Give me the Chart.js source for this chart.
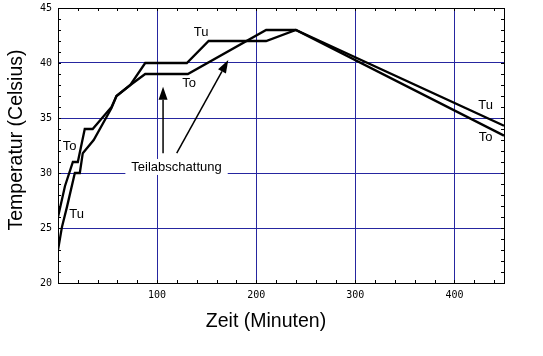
<!DOCTYPE html>
<html><head><meta charset="utf-8">
<script src="https://cdn.jsdelivr.net/npm/chart.js@4.4.0/dist/chart.umd.min.js"></script>
<style>html,body{margin:0;padding:0;background:#fff}#wrap{width:543px;height:356px;position:relative}</style>
</head><body><div id="wrap"><canvas id="c"></canvas></div>
<script>
// Data (Zeit in Minuten, Temperatur in °C)
const toX = [0, 7, 15, 20, 27, 35, 54, 59, 73, 88, 131, 210, 240, 450];
const toY = [26, 28.8, 31, 31, 34, 34, 36, 37, 38, 39, 39, 43, 43, 33.4];
const tuX = [0, 4, 9, 17, 22, 25, 36, 54, 59, 73, 88, 130, 152, 210, 240, 450];
const tuY = [23, 25.1, 26.9, 30, 30, 31.8, 33, 35.9, 37, 38, 40, 40, 42, 42, 43, 34.3];
const xTicks = [100, 200, 300, 400];
const yTicks = [20, 25, 30, 35, 40, 45];
const xTitle = 'Zeit (Minuten)';
const yTitle = 'Temperatur (Celsius)';
const noteText = 'Teilabschattung';
// annotation labels: [text, x, y]
const seriesLabels = [
  ['To', 11.6, 32.4], ['Tu', 18.7, 26.2],
  ['Tu', 144.3, 42.8], ['To', 132.2, 38.1],
  ['Tu', 431.4, 36.15], ['To', 431.4, 33.2]
];
const notePos = [119.6, 30.55];
// arrows: [fromX, fromY, toX, toY]
const arrows = [[106, 31.8, 106, 37.85], [119.8, 31.8, 171.8, 40.27]];

const GRID = '#2626a0';
const pts = (xs, ys) => xs.map((x, i) => ({x, y: ys[i]}));

const overlay = {
  id: 'overlay',
  afterDatasetsDraw(chart) {
    const {ctx, chartArea: a, scales: {x, y}} = chart;
    ctx.save();
    // top & right border
    ctx.strokeStyle = '#000'; ctx.lineWidth = 1;
    ctx.beginPath();
    ctx.moveTo(a.left, Math.round(a.top) + 0.5); ctx.lineTo(a.right + 0.5, Math.round(a.top) + 0.5);
    ctx.moveTo(Math.round(a.right) + 0.5, a.top); ctx.lineTo(Math.round(a.right) + 0.5, a.bottom);
    ctx.stroke();
    // minor ticks
    ctx.beginPath();
    for (let v = 21; v < 45; v++) {
      const py = Math.round(y.getPixelForValue(v)) + 0.5;
      ctx.moveTo(a.left, py); ctx.lineTo(a.left + 3, py);
      ctx.moveTo(a.right, py); ctx.lineTo(a.right - 3, py);
    }
    for (let v = 20; v < 450; v += 20) {
      const px = Math.round(x.getPixelForValue(v)) + 0.5;
      ctx.moveTo(px, a.bottom); ctx.lineTo(px, a.bottom - 3);
      ctx.moveTo(px, a.top); ctx.lineTo(px, a.top + 3);
    }
    ctx.stroke();
    // note with white box
    ctx.font = '13px "Liberation Sans", Arial, sans-serif';
    ctx.textAlign = 'center'; ctx.textBaseline = 'middle';
    const nx = x.getPixelForValue(notePos[0]), ny = y.getPixelForValue(notePos[1]);
    const w = ctx.measureText(noteText).width;
    ctx.fillStyle = '#fff';
    ctx.fillRect(nx - w / 2 - 6, ny - 8, w + 12, 16);
    ctx.fillStyle = '#000';
    ctx.fillText(noteText, nx, ny);
    // series labels
    seriesLabels.forEach(([t, vx, vy]) => {
      ctx.fillText(t, x.getPixelForValue(vx), y.getPixelForValue(vy));
    });
    // arrows
    arrows.forEach(([x1, y1, x2, y2]) => {
      const p1 = [x.getPixelForValue(x1), y.getPixelForValue(y1)];
      const p2 = [x.getPixelForValue(x2), y.getPixelForValue(y2)];
      const ang = Math.atan2(p2[1] - p1[1], p2[0] - p1[0]);
      const L = 13, W = 4.5;
      const bx = p2[0] - L * Math.cos(ang), by = p2[1] - L * Math.sin(ang);
      ctx.lineWidth = 1.5; ctx.strokeStyle = '#000';
      ctx.beginPath(); ctx.moveTo(p1[0], p1[1]); ctx.lineTo(bx, by); ctx.stroke();
      ctx.beginPath();
      ctx.moveTo(p2[0], p2[1]);
      ctx.lineTo(bx + W * Math.sin(ang), by - W * Math.cos(ang));
      ctx.lineTo(bx - W * Math.sin(ang), by + W * Math.cos(ang));
      ctx.closePath(); ctx.fill();
    });
    // axis titles
    ctx.font = '19.5px "Liberation Sans", Arial, sans-serif';
    ctx.fillText(xTitle, 266, 322);
    ctx.translate(17, 140); ctx.rotate(-Math.PI / 2);
    ctx.fillText(yTitle, 0, 0);
    ctx.restore();
  }
};

const gridColor = (lo, hi) => c => (c.tick && (c.tick.value === lo || c.tick.value === hi)) ? 'rgba(0,0,0,0)' : GRID;

new Chart(document.getElementById('c'), {
  type: 'scatter',
  data: {
    datasets: [
      {label: 'To', data: pts(toX, toY)},
      {label: 'Tu', data: pts(tuX, tuY)}
    ].map(d => Object.assign(d, {showLine: true, borderColor: '#000', backgroundColor: '#000',
      borderWidth: 2.3, pointRadius: 0, tension: 0, fill: false}))
  },
  options: {
    responsive: true, maintainAspectRatio: false, animation: false,
    layout: {padding: {top: 8, right: 39, left: 0, bottom: 0}},
    plugins: {legend: {display: false}, tooltip: {enabled: false}},
    scales: {
      x: {
        type: 'linear', min: 0, max: 450,
        afterBuildTicks: s => { s.ticks = xTicks.map(v => ({value: v})); },
        afterFit: s => { s.height = 73; s.paddingLeft = 0; s.paddingRight = 0; },
        ticks: {color: '#000', padding: 6, maxRotation: 0, autoSkip: false,
          font: {family: '"DejaVu Sans Mono", monospace', size: 10}},
        grid: {color: gridColor(0, 450), lineWidth: 1, drawTicks: false},
        border: {display: true, color: '#000', width: 1}
      },
      y: {
        min: 20, max: 45,
        afterBuildTicks: s => { s.ticks = yTicks.map(v => ({value: v})); },
        afterFit: s => { s.width = 58; s.paddingTop = 0; s.paddingBottom = 0; },
        ticks: {color: '#000', padding: 6, autoSkip: false,
          font: {family: '"DejaVu Sans Mono", monospace', size: 10}},
        grid: {color: gridColor(20, 45), lineWidth: 1, drawTicks: false},
        border: {display: true, color: '#000', width: 1}
      }
    }
  },
  plugins: [overlay]
});
</script></body></html>
